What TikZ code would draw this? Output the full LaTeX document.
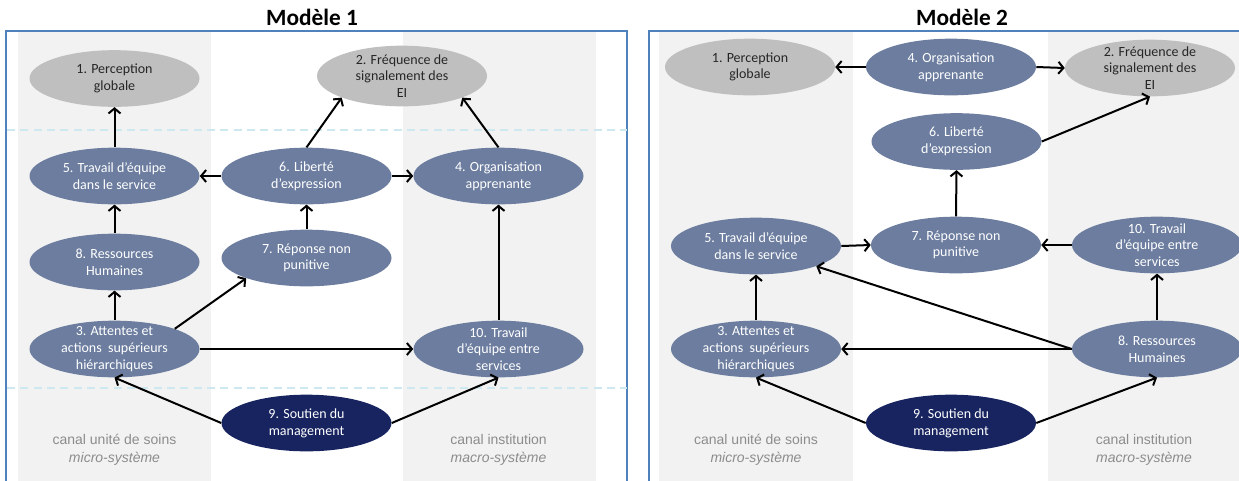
\documentclass[tikz,border=0pt]{standalone}
\usepackage{fontspec}
\setmainfont{Carlito}
\newfontfamily\labfont{Liberation Sans}
\usetikzlibrary{arrows.meta,shapes.geometric}

\definecolor{bandgray}{HTML}{F2F2F2}
\definecolor{frameblue}{HTML}{4F81BD}
\definecolor{guidecyan}{HTML}{CDE9EF}
\definecolor{outnode}{HTML}{BFBFBF}
\definecolor{midnode}{HTML}{6C7D9F}
\definecolor{rootnode}{HTML}{17245F}
\definecolor{captiongray}{HTML}{8C8C8C}

\begin{document}
\begin{tikzpicture}[x=0.75pt,y=-0.75pt,
  factor/.style={ellipse, minimum width=127.5pt, minimum height=42.5pt,
    inner xsep=0pt, inner ysep=-8pt, align=center,
    font=\fontsize{10.5}{12.5}\selectfont},
  outcome/.style={factor, fill=outnode, text=black!85},
  dimension/.style={factor, fill=midnode, text=white},
  rootfactor/.style={factor, fill=rootnode, text=white},
  link/.style={line width=1.5pt, -{Straight Barb[length=3.8pt,width=9pt]}},
  colband/.style={fill=bandgray, draw=none},
  panelframe/.style={draw=frameblue, line width=1.6pt},
  levelguide/.style={draw=guidecyan, line width=1pt, dash pattern=on 6pt off 4pt},
  channel/.style={font=\labfont\fontsize{10.5}{13.2}\selectfont, text=captiongray, align=center},
  heading/.style={font=\bfseries\fontsize{17.5}{20}\selectfont}]

\useasboundingbox (0,0) rectangle (1239,480);
\clip (0,0) rectangle (1239,480);

% ---------- column bands and panel frames ----------
\fill[colband] (18,32) rectangle (211,500);
\fill[colband] (403,32) rectangle (596,500);
\fill[colband] (659,32) rectangle (853,500);
\fill[colband] (1048,32) rectangle (1242,500);

\draw[panelframe] (6,31) rectangle (627,520);
\draw[panelframe] (649,31) rectangle (1290,520);

% level separators of the first panel
\draw[levelguide] (7,130) -- (627,130);
\draw[levelguide] (7,388) -- (627,388);

% ---------- titles ----------
\node[heading] (title1) at (312,17) {Modèle 1};
\node[heading] (title2) at (962,17) {Modèle 2};

% ---------- panel 1 ----------
\node[outcome, minimum height=45.5pt] (n2a) at (402,76) {2. Fréquence de\\signalement des\\EI};
\node[outcome] (n1a) at (114.5,78.5) {1. Perception\\globale};
\node[dimension] (n5a) at (114.5,176) {5. Travail d’équipe\\dans le service};
\node[dimension] (n6a) at (306.5,176) {6. Liberté\\d’expression};
\node[dimension] (n4a) at (498.5,176) {4. Organisation\\apprenante};
\node[dimension] (n8a) at (114.5,262) {8. Ressources\\Humaines};
\node[dimension] (n7a) at (306.5,258) {7. Réponse non\\punitive};
\node[dimension] (n3a) at (114.5,349) {3. Attentes et\\actions\ \ supérieurs\\hiérarchiques};
\node[dimension] (n10a) at (498.5,349) {10. Travail\\d’équipe entre\\services};
\node[rootfactor] (n9a) at (306.5,423) {9. Soutien du\\management};

\node[channel] (ch1a) at (114.5,450) {canal unité de soins\\\textit{micro-système}};
\node[channel] (ch2a) at (498.5,450) {canal institution\\\textit{macro-système}};

\draw[link] (n5a.north) -- (n1a.south);
\draw[link] (n6a.north) -- (n2a.south west);
\draw[link] (n4a.north) -- (n2a.south east);
\draw[link] (n6a.west) -- (n5a.east);
\draw[link] (n6a.east) -- (n4a.west);
\draw[link] (n8a.north) -- (n5a.south);
\draw[link] (n7a.north) -- (n6a.south);
\draw[link] (n3a.north) -- (n8a.south);
\draw[link] (n3a.north east) -- (n7a.south west);
\draw[link] (n3a.east) -- (n10a.west);
\draw[link] (n10a.north) -- (n4a.south);
\draw[link] (n9a.west) -- (n3a.south);
\draw[link] (n9a.east) -- (n10a.south);

% ---------- panel 2 ----------
\node[outcome] (n1b) at (750,67) {1. Perception\\globale};
\node[dimension] (n4b) at (951,67) {4. Organisation\\apprenante};
\node[outcome] (n2b) at (1150,68) {2. Fréquence de\\signalement des\\EI};
\node[dimension] (n6b) at (956.5,141.5) {6. Liberté\\d’expression};
\node[dimension] (n5b) at (756,246) {5. Travail d’équipe\\dans le service};
\node[dimension] (n7b) at (956,245) {7. Réponse non\\punitive};
\node[dimension] (n10b) at (1157,245) {10. Travail\\d’équipe entre\\services};
\node[dimension] (n3b) at (756,349) {3. Attentes et\\actions\ \ supérieurs\\hiérarchiques};
\node[dimension] (n8b) at (1157,349) {8. Ressources\\Humaines};
\node[rootfactor] (n9b) at (951,423) {9. Soutien du\\management};

\node[channel] (ch1b) at (756,450) {canal unité de soins\\\textit{micro-système}};
\node[channel] (ch2b) at (1144,450) {canal institution\\\textit{macro-système}};

\draw[link] (n4b.west) -- (n1b.east);
\draw[link] (n4b.east) -- (n2b.west);
\draw[link] (n6b.east) -- (n2b.south);
\draw[link] (n7b.north) -- (n6b.south);
\draw[link] (n5b.east) -- (n7b.west);
\draw[link] (n10b.west) -- (n7b.east);
\draw[link] (n3b.north) -- (n5b.south);
\draw[link] (n8b.north) -- (n10b.south);
\draw[link] (n8b.west) -- (n3b.east);
\draw[link] (n8b.west) -- (n5b.south east);
\draw[link] (n9b.west) -- (n3b.south);
\draw[link] (n9b.east) -- (n8b.south);

\end{tikzpicture}
\end{document}
